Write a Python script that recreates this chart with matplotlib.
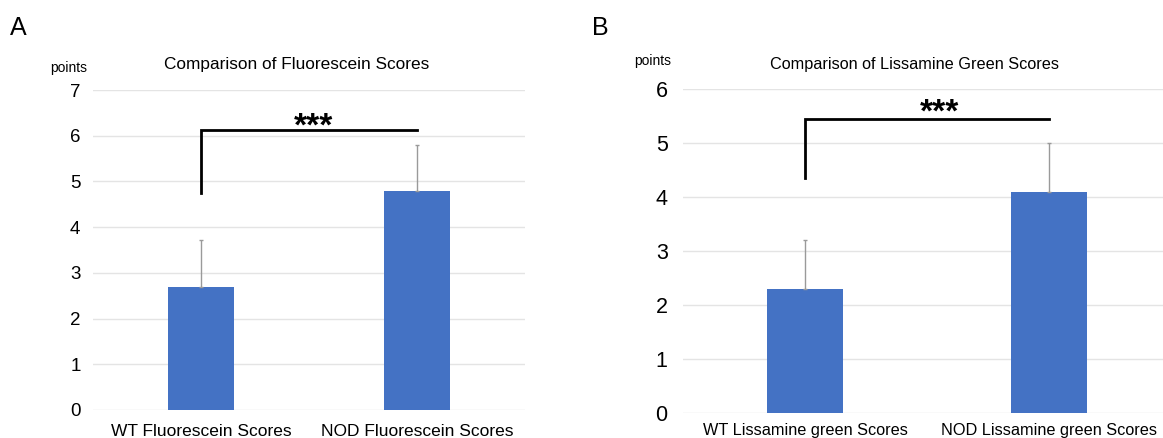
import matplotlib.pyplot as plt

# Panel A data
fluo_labels = ["WT Fluorescein Scores", "NOD Fluorescein Scores"]
fluo_means = [2.7, 4.8]
fluo_err = [1.02, 1.0]

# Panel B data
liss_labels = ["WT Lissamine green Scores", "NOD Lissamine green Scores"]
liss_means = [2.3, 4.1]
liss_err = [0.9, 0.9]

plt.rcParams['font.family'] = ['Liberation Sans', 'DejaVu Sans']

BLUE = "#4472C4"


def draw_panel(ax, labels, means, err, ymax, title, title_size, title_y,
               tick_size, ytick_pad, label_size, xtick_pad, bracket_low,
               bracket_left, bracket_right, star_dx, star_dy):
    x = [0, 1]
    ax.bar(x, means, width=0.31, color=BLUE, zorder=2)
    ax.errorbar(x, means, yerr=[[0, 0], err], fmt="none", ecolor="#9a9a9a",
                elinewidth=1, capsize=1.5, capthick=1, zorder=3)
    ax.set_xlim(-0.5, 1.5)
    ax.set_ylim(0, ymax)
    ax.set_yticks(range(ymax + 1))
    ax.grid(axis="y", color="#e4e4e4", linewidth=1, zorder=0)
    for s in ax.spines.values():
        s.set_visible(False)
    ax.tick_params(length=0)
    ax.tick_params(axis="y", labelsize=tick_size, pad=ytick_pad)
    ax.set_xticks(x)
    ax.set_xticklabels(labels, fontsize=label_size)
    ax.tick_params(axis="x", pad=xtick_pad)

    # title sits a bit left of the plot centre, as in the original
    ax.annotate(title, xy=(0.5, 1), xycoords="axes fraction",
                xytext=(-9, title_y), textcoords="offset points",
                ha="center", va="center", fontsize=title_size)

    # significance bracket
    ax.plot([0, 0, 1], [bracket_low, bracket_left, bracket_right],
            color="black", linewidth=2, solid_joinstyle="miter", zorder=4)
    ax.annotate("***", xy=(0.5, bracket_right), xytext=(star_dx, star_dy),
                textcoords="offset points", ha="center", va="baseline",
                fontsize=24, fontweight="bold")


fig = plt.figure(figsize=(11.63, 4.38), dpi=100)

ax1 = fig.add_axes([93 / 1163, 28 / 438, 432 / 1163, 320 / 438])
draw_panel(ax1, fluo_labels, fluo_means, fluo_err, 7,
           "Comparison of Fluorescein Scores", 12.4, 18,
           13.5, 9, 12.5, 10, 4.75, 6.13, 6.13, 3, -4.5)

ax2 = fig.add_axes([683 / 1163, 25 / 438, 488 / 1163, 324 / 438])
draw_panel(ax2, liss_labels, liss_means, liss_err, 6,
           "Comparison of Lissamine Green Scores", 11.7, 18,
           15.5, 11, 11.7, 7, 4.35, 5.44, 5.44, 9, -2)

fig.text(69 / 1163, 1 - 68 / 438, "points", ha="center", va="center", fontsize=10)
fig.text(653 / 1163, 1 - 61 / 438, "points", ha="center", va="center", fontsize=10)
fig.text(18 / 1163, 1 - 28 / 438, "A", ha="center", va="center", fontsize=18)
fig.text(600 / 1163, 1 - 28 / 438, "B", ha="center", va="center", fontsize=18)

fig.savefig("out.png", dpi=100)
